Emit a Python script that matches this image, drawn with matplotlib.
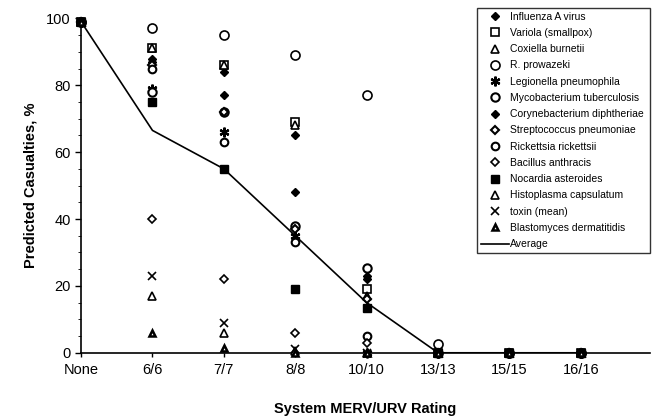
import matplotlib.pyplot as plt

plt.rcParams["font.family"] = ["Liberation Sans", "DejaVu Sans"]

# ratings along the x axis
ratings = ["None", "6/6", "7/7", "8/8", "10/10", "13/13", "15/15", "16/16"]

# predicted casualties (%) per agent
influenza = [99, 88, 84, 65, 23, 0, 0, 0]
variola = [99, 91, 86, 69, 19, 0, 0, 0]
coxiella = [99, 91, 86, 68, 17, 0, 0, 0]
prowazeki = [99, 97, 95, 89, 77, 2.5, 0, 0]
legionella = [99, 79, 66, 35, 0, 0, 0, 0]
tuberculosis = [99, 78, 72, 38, 25.5, 0, 0, 0]
diphtheriae = [99, 87, 77, 48, 22, 0, 0, 0]
pneumoniae = [99, 86, 72, 37, 16, 0, 0, 0]
rickettsii = [99, 85, 63, 33, 5, 0, 0, 0]
anthracis = [99, 40, 22, 6, 3, 0, 0, 0]
nocardia = [99, 75, 55, 19, 13.5, 0, 0, 0]
histoplasma = [99, 17, 6, 0.5, 0, 0, 0, 0]
toxin = [99, 23, 9, 1, 0, 0, 0, 0]
blastomyces = [99, 6, 1.5, 0, 0, 0, 0, 0]
average = [99, 66.5, 55, 35, 15, 0, 0, 0]

series = [
    ("Influenza A virus", influenza, "D", "black", 4.0, 1.0),
    ("Variola (smallpox)", variola, "s", "white", 5.5, 1.2),
    ("Coxiella burnetii", coxiella, "^", "white", 5.5, 1.2),
    ("R. prowazeki", prowazeki, "o", "white", 6.5, 1.2),
    ("Legionella pneumophila", legionella, (6, 2, 0), "black", 7.0, 1.6),
    ("Mycobacterium tuberculosis", tuberculosis, "o", "white", 6.0, 1.5),
    ("Corynebacterium diphtheriae", diphtheriae, "D", "black", 4.0, 1.0),
    ("Streptococcus pneumoniae", pneumoniae, "D", "white", 4.5, 1.5),
    ("Rickettsia rickettsii", rickettsii, "o", "white", 5.5, 1.5),
    ("Bacillus anthracis", anthracis, "D", "white", 4.5, 1.2),
    ("Nocardia asteroides", nocardia, "s", "black", 5.5, 1.0),
    ("Histoplasma capsulatum", histoplasma, "^", "white", 5.5, 1.2),
    ("toxin (mean)", toxin, "x", "black", 6.0, 1.2),
    ("Blastomyces dermatitidis", blastomyces, "^", "white", 5.0, 1.8),
]

fig = plt.figure(figsize=(6.54, 4.18), dpi=100)
ax = fig.add_axes([0.124, 0.156, 0.87, 0.80])

x = list(range(len(ratings)))
for label, vals, marker, face, ms, mew in series:
    ax.plot(x, vals, linestyle="none", marker=marker, markersize=ms,
            markerfacecolor=face, markeredgecolor="black", markeredgewidth=mew,
            color="black", label=label, clip_on=False, zorder=3)
ax.plot(x, average, color="black", linewidth=1.2, label="Average", zorder=2)

ax.set_xlim(0, 7.97)
ax.set_ylim(0, 100)
ax.set_xticks(x)
ax.set_xticklabels(ratings)
ax.set_yticks(range(0, 101, 20))
ax.set_yticks(range(0, 101, 5), minor=True)
ax.tick_params(axis="both", labelsize=10.5, width=1, direction="out")
ax.tick_params(axis="x", length=3, pad=4)
ax.tick_params(axis="y", which="major", length=4)
ax.tick_params(axis="y", which="minor", length=2)
ax.spines["top"].set_visible(False)
ax.spines["right"].set_visible(False)
ax.spines["left"].set_linewidth(1.2)
ax.spines["bottom"].set_linewidth(1.2)

ax.set_xlabel("System MERV/URV Rating", fontsize=10.5, fontweight="bold", labelpad=18)
ax.set_ylabel("Predicted Casualties, %", fontsize=10.5, fontweight="bold", labelpad=6)

leg = ax.legend(loc="upper left", bbox_to_anchor=(0.696, 1.031, 0.304, 0.0), mode="expand",
                fontsize=7.5, frameon=True, fancybox=False, edgecolor="black",
                labelspacing=0.6, handlelength=2.7, handletextpad=0.15,
                borderpad=0.35, borderaxespad=0)
leg.get_frame().set_linewidth(1.0)

fig.savefig("out.png", dpi=100)
